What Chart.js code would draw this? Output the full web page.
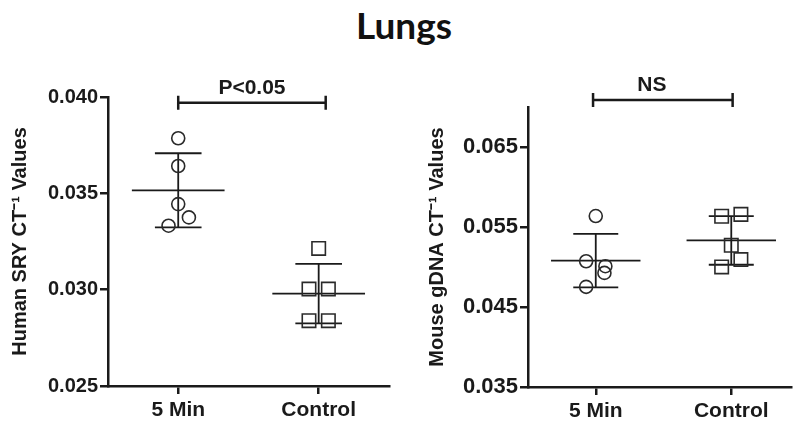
<!DOCTYPE html>
<html>
<head>
<meta charset="utf-8">
<script src="https://cdn.jsdelivr.net/npm/chart.js@4/dist/chart.umd.min.js"></script>
<style>
  body { margin: 0; background: #fff; width: 802px; height: 423px; overflow: hidden; position: relative; }
  #title { position: absolute; left: 0; width: 808px; top: 6px; text-align: center;
           font: bold 37px Lato, "Open Sans", sans-serif; line-height: 37px; color: #111; }
  .panel { position: absolute; top: 60px; height: 363px; }
  #left { left: 0; width: 400px; }
  #right { left: 400px; width: 402px; }
</style>
</head>
<body>
<div id="title">Lungs</div>
<div class="panel" id="left"><canvas id="sryChart"></canvas></div>
<div class="panel" id="right"><canvas id="gdnaChart"></canvas></div>
<script>
// groups on the x axis
const groups = ['5 Min', 'Control'];

// Human SRY CT^-1 values (left panel)
const sryMin5 = [0.03786, 0.03642, 0.03444, 0.03375, 0.03332];
const sryMin5Jitter = [0, 0, 0, 0.076, -0.069];
const sryControl = [0.03214, 0.03003, 0.03003, 0.02839, 0.02839];
const sryControlJitter = [0, -0.069, 0.069, -0.069, 0.069];
const sryTicks = [0.025, 0.030, 0.035, 0.040];

// Mouse gDNA CT^-1 values (right panel)
const gdnaMin5 = [0.05637, 0.05072, 0.0501, 0.04926, 0.04752];
const gdnaMin5Jitter = [0, -0.071, 0.071, 0.064, -0.071];
const gdnaControl = [0.05658, 0.05634, 0.05272, 0.05093, 0.05001];
const gdnaControlJitter = [0.071, -0.071, 0, 0.071, -0.071];
const gdnaTicks = [0.035, 0.045, 0.055, 0.065];

const INK = '#1a1a1a';
const FONT = '"Liberation Sans", Arial, sans-serif';

function mean(a) { return a.reduce((s, v) => s + v, 0) / a.length; }
function sd(a) {
  const m = mean(a);
  return Math.sqrt(a.reduce((s, v) => s + (v - m) * (v - m), 0) / (a.length - 1));
}

function seg(x1, y1, x2, y2) {
  return {
    data: [{x: x1, y: y1}, {x: x2, y: y2}],
    showLine: true,
    borderColor: INK,
    borderWidth: 1.8,
    pointRadius: 0,
    pointHoverRadius: 0
  };
}

// mean line + SD whiskers for one group
function summary(values, pos) {
  const m = mean(values), s = sd(values);
  return [
    seg(pos - 0.33, m, pos + 0.33, m),
    seg(pos, m - s, pos, m + s),
    seg(pos - 0.166, m + s, pos + 0.166, m + s),
    seg(pos - 0.166, m - s, pos + 0.166, m - s)
  ];
}

function points(values, jitter, pos, style, radius) {
  return {
    data: values.map((v, i) => ({x: pos + jitter[i], y: v})),
    pointStyle: style,
    pointRadius: radius,
    pointHoverRadius: radius,
    pointBorderWidth: 1.6,
    pointBorderColor: '#2a2a2a',
    pointBackgroundColor: 'rgba(0,0,0,0)',
    showLine: false
  };
}

const bracketPlugin = {
  id: 'bracket',
  afterDatasetsDraw(chart, args, opts) {
    const {ctx, scales: {x, y}} = chart;
    const x1 = x.getPixelForValue(opts.from), x2 = x.getPixelForValue(opts.to);
    const yy = y.getPixelForValue(opts.value);
    ctx.save();
    ctx.strokeStyle = INK;
    ctx.lineWidth = 2.5;
    ctx.beginPath();
    ctx.moveTo(x1, yy); ctx.lineTo(x2, yy);
    ctx.moveTo(x1, yy - 7); ctx.lineTo(x1, yy + 7);
    ctx.moveTo(x2, yy - 7); ctx.lineTo(x2, yy + 7);
    ctx.stroke();
    ctx.fillStyle = INK;
    ctx.font = 'bold 21px ' + FONT;
    ctx.textAlign = 'center';
    ctx.textBaseline = 'alphabetic';
    ctx.fillText(opts.text, (x1 + x2) / 2 + (opts.dx || 0), yy - 9);
    ctx.restore();
  }
};

function makeChart(canvasId, cfg) {
  const axisGrid = {
    display: true,
    drawOnChartArea: false,
    drawTicks: true,
    tickLength: 8,
    lineWidth: 2.5,
    color: INK
  };
  return new Chart(document.getElementById(canvasId), {
    type: 'scatter',
    data: {
      datasets: [
        points(cfg.a, cfg.aJitter, 1, 'circle', 6.5),
        points(cfg.b, cfg.bJitter, 2, 'rect', 9.5),
        ...summary(cfg.a, 1),
        ...summary(cfg.b, 2)
      ]
    },
    options: {
      responsive: true,
      maintainAspectRatio: false,
      animation: false,
      layout: { padding: cfg.padding },
      scales: {
        x: {
          type: 'linear',
          min: 0.5,
          max: cfg.xMax,
          afterBuildTicks: (scale) => { scale.ticks = groups.map((g, i) => ({value: i + 1})); },
          afterFit: (scale) => { scale.height = cfg.xHeight; },
          border: { display: true, color: INK, width: 2.5 },
          grid: axisGrid,
          ticks: {
            autoSkip: false,
            maxRotation: 0,
            padding: 4,
            color: INK,
            font: { family: FONT, weight: 'bold', size: 21 },
            callback: (v) => groups[Math.round(v) - 1]
          }
        },
        y: {
          min: cfg.yMin,
          max: cfg.yMax,
          afterBuildTicks: (scale) => { scale.ticks = cfg.yTicks.map(v => ({value: v})); },
          afterFit: (scale) => { scale.width = cfg.yWidth; },
          border: { display: true, color: INK, width: 2.5 },
          grid: axisGrid,
          ticks: {
            padding: 2,
            color: INK,
            font: { family: FONT, weight: 'bold', size: cfg.tickSize },
            callback: (v) => v.toFixed(3)
          },
          title: {
            display: true,
            text: cfg.yTitle,
            color: INK,
            font: { family: FONT, weight: 'bold', size: 20 },
            padding: { top: cfg.titlePad, bottom: 0 }
          }
        }
      },
      plugins: {
        legend: { display: false },
        tooltip: { enabled: false },
        bracket: cfg.bracket
      }
    },
    plugins: [bracketPlugin]
  });
}

makeChart('sryChart', {
  a: sryMin5, aJitter: sryMin5Jitter,
  b: sryControl, bJitter: sryControlJitter,
  yMin: 0.025, yMax: 0.040, yTicks: sryTicks,
  yTitle: 'Human SRY CT\u207B\u00B9 Values',
  xMax: 2.5, xHeight: 37, yWidth: 108, tickSize: 20, titlePad: 8,
  padding: { top: 37, right: 3, bottom: 0, left: 0 },
  bracket: { from: 1, to: 2.05, value: 0.0397, text: 'P<0.05' }
});

makeChart('gdnaChart', {
  a: gdnaMin5, aJitter: gdnaMin5Jitter,
  b: gdnaControl, bJitter: gdnaControlJitter,
  yMin: 0.035, yMax: 0.070, yTicks: gdnaTicks,
  yTitle: 'Mouse gDNA CT\u207B\u00B9 Values',
  xMax: 2.44, xHeight: 36, yWidth: 128, tickSize: 22, titlePad: 25,
  padding: { top: 47, right: 0, bottom: 0, left: 0 },
  bracket: { from: 0.98, to: 2.01, value: 0.07087, text: 'NS', dx: -11 }
});
</script>
</body>
</html>
